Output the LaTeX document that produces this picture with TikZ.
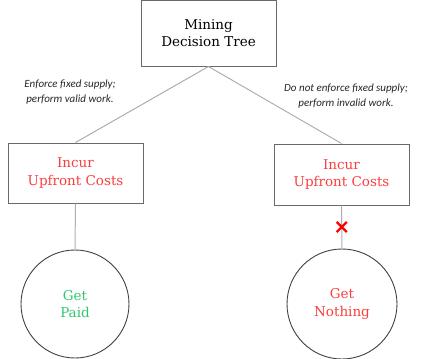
\documentclass[tikz,border=0pt]{standalone}
\usepackage{fontspec}
\setmainfont{DejaVu Serif}
\newfontfamily\notefont{Carlito}
\usetikzlibrary{shapes.misc}
\definecolor{lossred}{RGB}{250,62,62}
\definecolor{gaingreen}{RGB}{45,200,110}
\definecolor{linkgray}{RGB}{175,175,175}
\definecolor{edgegray}{RGB}{105,105,105}
\tikzset{
  choice/.style={draw=edgegray,line width=1pt,minimum width=135pt,align=center,font=\fontsize{13.5}{17.5}\selectfont},
  outcome/.style={circle,draw=black!75,line width=0.9pt,align=center,font=\fontsize{13.5}{17.5}\selectfont},
  note/.style={align=center,text=black!85,font=\notefont\itshape\fontsize{11}{15}\selectfont},
  link/.style={draw=linkgray,line width=1pt},
  nogo/.style={cross out,draw=red,line width=2.2pt,minimum size=8pt,inner sep=0pt}
}

\begin{document}
\begin{tikzpicture}[x=1pt,y=-1pt]
\useasboundingbox (0,0) rectangle (424,359);
\node[choice,minimum height=66pt] (tree) at (208.5,33) {Mining\\Decision Tree};
\node[choice,minimum height=60pt,text=lossred] (costL) at (75.5,173) {Incur\\Upfront Costs};
\node[choice,minimum height=61pt,text=lossred] (costR) at (341.5,174.5) {Incur\\Upfront Costs};
\node[outcome,minimum size=108pt,text=gaingreen] (paid) at (75,304) {Get\\Paid};
\node[outcome,minimum size=110pt,text=lossred] (nothing) at (342,304) {Get\\Nothing};
% branch labels
\node[note] (valid) at (70,92.5) {Enforce fixed supply;\\perform valid work.};
\node[note] (invalid) at (346,96.5) {Do not enforce fixed supply;\\perform invalid work.};
% connectors
\draw[link] (tree.south) -- (costL.north);
\draw[link] (tree.south) -- (costR.north);
\draw[link] (costL.south) -- (paid.north);
\draw[link] (costR.south) -- node[nogo] (stop) {} (nothing.north);
\end{tikzpicture}
\end{document}
